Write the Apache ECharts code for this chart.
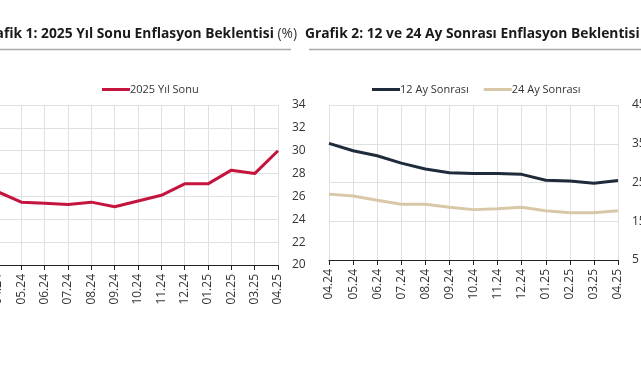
<!DOCTYPE html>
<html><head><meta charset="utf-8">
<script src="https://cdn.jsdelivr.net/npm/echarts@6/dist/echarts.min.js"></script>
<style>html,body{margin:0;padding:0;background:#fff}#c{width:641px;height:380px}</style>
</head><body><div id="c"></div>
<script>
const categories = ['04.24','05.24','06.24','07.24','08.24','09.24','10.24','11.24','12.24','01.25','02.25','03.25','04.25'];
const yearEnd2025 = [26.4, 25.5, 25.4, 25.3, 25.5, 25.1, 25.6, 26.1, 27.1, 27.1, 28.3, 28.0, 30.0];
const ahead12 = [35.1, 33.2, 31.9, 30.0, 28.5, 27.5, 27.3, 27.3, 27.1, 25.6, 25.4, 24.8, 25.5];
const ahead24 = [22.0, 21.5, 20.4, 19.4, 19.4, 18.6, 18.0, 18.2, 18.6, 17.7, 17.2, 17.2, 17.7];
const leftAxisRange = [20, 34, 2];
const rightAxisRange = [5, 45, 10];
const title1 = 'Grafik 1: 2025 Yıl Sonu Enflasyon Beklentisi';
const title2 = 'Grafik 2: 12 ve 24 Ay Sonrası Enflasyon Beklentisi';
const seriesNames = ['2025 Yıl Sonu', '12 Ay Sonrası', '24 Ay Sonrası'];

const FONT = 'Open Sans';
const chart = echarts.init(document.getElementById('c'), null, {renderer: 'canvas'});
const richTitle = {
  b: {fontFamily: FONT, fontWeight: 'bold', fontSize: 13.8, color: '#1a1a1a'},
  n: {fontFamily: FONT, fontWeight: 'normal', fontSize: 13.8, color: '#333'}
};
function xAxis(gi) {
  return {
    type: 'category', gridIndex: gi, data: categories, boundaryGap: false,
    axisLine: {show: true, lineStyle: {color: '#222', width: 1.2}},
    axisTick: {show: true, length: 5, lineStyle: {color: '#222'}},
    axisLabel: {rotate: 90, fontFamily: FONT, fontSize: 12, color: '#333', margin: 9},
    splitLine: {show: true, lineStyle: {color: '#e0e0e0', width: 1}}
  };
}
function yAxis(gi, r) {
  return {
    type: 'value', gridIndex: gi, position: 'right', min: r[0], max: r[1], interval: r[2],
    axisLine: {show: false}, axisTick: {show: false},
    axisLabel: {fontFamily: FONT, fontSize: 12, color: '#333', margin: 14},
    splitLine: {show: true, lineStyle: {color: '#e0e0e0', width: 1}}
  };
}
const legendText = {fontFamily: FONT, fontSize: 11, color: '#333', padding: [0,0,0,-5]};
const option = {
  animation: false,
  backgroundColor: '#fff',
  title: [
    {text: '{b|' + title1 + '}{n| (%)}', right: 344, top: 27, padding: 0, textStyle: {rich: richTitle}},
    {text: '{b|' + title2 + '}{n| (%)}', left: 305, top: 27, padding: 0, textStyle: {rich: richTitle}}
  ],
  graphic: [
    {type: 'line', shape: {x1: 0, y1: 49.5, x2: 291, y2: 49.5}, style: {stroke: '#a8a8a8', lineWidth: 1.5}},
    {type: 'line', shape: {x1: 309, y1: 49.5, x2: 641, y2: 49.5}, style: {stroke: '#a8a8a8', lineWidth: 1.5}}
  ],
  legend: [
    {data: [seriesNames[0]], left: 102, top: 84, padding: 0, itemWidth: 28, itemHeight: 3, itemGap: 15, icon: 'rect',
     textStyle: legendText},
    {data: [seriesNames[1], seriesNames[2]], left: 372, top: 84, padding: 0, itemWidth: 28, itemHeight: 3, itemGap: 15, icon: 'rect',
     textStyle: legendText}
  ],
  grid: [
    {left: -2, right: 363, top: 105, bottom: 115, containLabel: false, outerBoundsMode: 'none'},
    {left: 329, right: 23, top: 105, bottom: 120, containLabel: false, outerBoundsMode: 'none'}
  ],
  xAxis: [xAxis(0), xAxis(1)],
  yAxis: [yAxis(0, leftAxisRange), yAxis(1, rightAxisRange)],
  series: [
    {name: seriesNames[0], type: 'line', xAxisIndex: 0, yAxisIndex: 0, data: yearEnd2025, showSymbol: false, symbol: 'none',
     lineStyle: {color: '#c5153f', width: 3}, itemStyle: {color: '#c5153f'}},
    {name: seriesNames[1], type: 'line', xAxisIndex: 1, yAxisIndex: 1, data: ahead12, showSymbol: false, symbol: 'none',
     lineStyle: {color: '#1f2b3a', width: 3}, itemStyle: {color: '#1f2b3a'}},
    {name: seriesNames[2], type: 'line', xAxisIndex: 1, yAxisIndex: 1, data: ahead24, showSymbol: false, symbol: 'none',
     lineStyle: {color: '#d9c8a8', width: 3}, itemStyle: {color: '#d9c8a8'}}
  ]
};
chart.setOption(option);
</script></body></html>
